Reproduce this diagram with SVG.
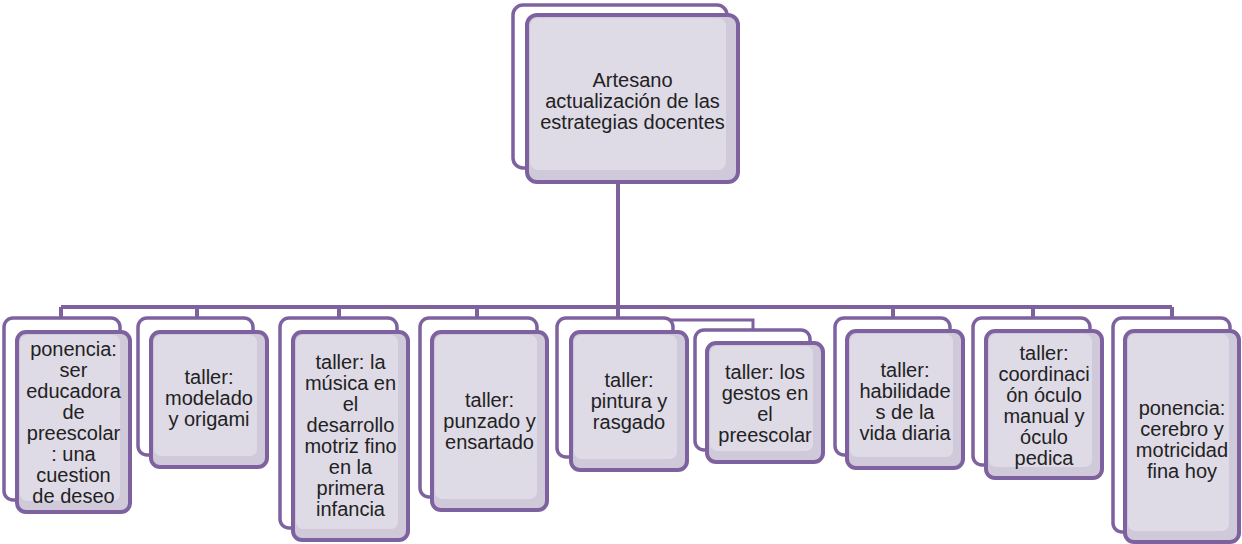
<svg xmlns="http://www.w3.org/2000/svg" width="1242" height="544" viewBox="0 0 1242 544">
<style>
.back{fill:#ffffff;stroke:#7e62a0;stroke-width:3.5}
.front{fill:#cfc9da;stroke:#7e62a0;stroke-width:4}
.inner{fill:#dedae6}
.con{fill:none;stroke:#7e62a0;stroke-width:4}
.thin{fill:none;stroke:#7e62a0;stroke-width:3}
text{font-family:"Liberation Sans",Arial,sans-serif;font-size:20px;fill:#222222;text-anchor:middle}
</style>
<rect width="1242" height="544" fill="#ffffff"/>
<g id="connectors">
<path class="con" d="M618,182 V307"/>
<path class="con" d="M61,307 H1172"/>
<path class="con" d="M61,307 V319 M197,307 V319 M339,307 V319 M477,307 V319 M618,307 V319 M893,307 V319 M1033,307 V319 M1172,307 V319"/>
<path class="thin" d="M618,307 V320 H753 V331"/>
</g>
<g id="top">
<rect class="back" x="513" y="5" width="214" height="163" rx="10"/>
<rect class="front" x="527" y="15" width="211" height="167" rx="10"/>
<rect class="inner" x="530" y="18" width="196" height="152" rx="8"/>
<text><tspan x="632.5" y="87">Artesano</tspan><tspan x="632.5" y="108">actualización de las</tspan><tspan x="632.5" y="129">estrategias docentes</tspan></text>
</g>
<g id="n1">
<rect class="back" x="4" y="318" width="116" height="182" rx="9"/>
<rect class="front" x="17" y="332" width="113" height="180" rx="9"/>
<rect class="inner" x="20" y="335" width="100" height="166" rx="7"/>
<text><tspan x="73.5" y="356">ponencia:</tspan><tspan x="73.5" y="377">ser</tspan><tspan x="73.5" y="398">educadora</tspan><tspan x="73.5" y="419">de</tspan><tspan x="73.5" y="440">preescolar</tspan><tspan x="73.5" y="461">: una</tspan><tspan x="73.5" y="482">cuestion</tspan><tspan x="73.5" y="503">de deseo</tspan></text>
</g>
<g id="n2">
<rect class="back" x="138" y="318" width="115" height="137" rx="9"/>
<rect class="front" x="151" y="332" width="116" height="135" rx="9"/>
<rect class="inner" x="154" y="335" width="103" height="121" rx="7"/>
<text><tspan x="209" y="384">taller:</tspan><tspan x="209" y="405">modelado</tspan><tspan x="209" y="426">y origami</tspan></text>
</g>
<g id="n3">
<rect class="back" x="280" y="318" width="117" height="210" rx="9"/>
<rect class="front" x="293" y="332" width="115" height="208" rx="9"/>
<rect class="inner" x="296" y="335" width="102" height="194" rx="7"/>
<text><tspan x="350.5" y="369">taller: la</tspan><tspan x="350.5" y="390">música en</tspan><tspan x="350.5" y="411">el</tspan><tspan x="350.5" y="432">desarrollo</tspan><tspan x="350.5" y="453">motriz fino</tspan><tspan x="350.5" y="474">en la</tspan><tspan x="350.5" y="495">primera</tspan><tspan x="350.5" y="516">infancia</tspan></text>
</g>
<g id="n4">
<rect class="back" x="420" y="318" width="117" height="179" rx="9"/>
<rect class="front" x="432" y="332" width="115" height="178" rx="9"/>
<rect class="inner" x="435" y="335" width="102" height="164" rx="7"/>
<text><tspan x="489.5" y="407">taller:</tspan><tspan x="489.5" y="428">punzado y</tspan><tspan x="489.5" y="449">ensartado</tspan></text>
</g>
<g id="n5">
<rect class="back" x="557" y="318" width="116" height="139" rx="9"/>
<rect class="front" x="571" y="332" width="116" height="138" rx="9"/>
<rect class="inner" x="574" y="335" width="103" height="124" rx="7"/>
<text><tspan x="629" y="387">taller:</tspan><tspan x="629" y="408">pintura y</tspan><tspan x="629" y="429">rasgado</tspan></text>
</g>
<g id="n6">
<rect class="back" x="695" y="330" width="115" height="120" rx="9"/>
<rect class="front" x="707" y="343" width="116" height="119" rx="9"/>
<rect class="inner" x="710" y="346" width="103" height="105" rx="7"/>
<text><tspan x="765" y="379">taller: los</tspan><tspan x="765" y="400">gestos en</tspan><tspan x="765" y="421">el</tspan><tspan x="765" y="442">preescolar</tspan></text>
</g>
<g id="n7">
<rect class="back" x="835" y="318" width="115" height="137" rx="9"/>
<rect class="front" x="847" y="331" width="116" height="137" rx="9"/>
<rect class="inner" x="850" y="334" width="103" height="123" rx="7"/>
<text><tspan x="905" y="377">taller:</tspan><tspan x="905" y="398">habilidade</tspan><tspan x="905" y="419">s de la</tspan><tspan x="905" y="440">vida diaria</tspan></text>
</g>
<g id="n8">
<rect class="back" x="973" y="318" width="117" height="147" rx="9"/>
<rect class="front" x="986" y="331" width="116" height="147" rx="9"/>
<rect class="inner" x="989" y="334" width="103" height="133" rx="7"/>
<text><tspan x="1044" y="360">taller:</tspan><tspan x="1044" y="381">coordinaci</tspan><tspan x="1044" y="402">ón óculo</tspan><tspan x="1044" y="423">manual y</tspan><tspan x="1044" y="444">óculo</tspan><tspan x="1044" y="465">pedica</tspan></text>
</g>
<g id="n9">
<rect class="back" x="1113" y="318" width="117" height="214" rx="9"/>
<rect class="front" x="1125" y="331" width="114" height="211" rx="9"/>
<rect class="inner" x="1128" y="334" width="101" height="197" rx="7"/>
<text><tspan x="1182" y="415">ponencia:</tspan><tspan x="1182" y="436">cerebro y</tspan><tspan x="1182" y="457">motricidad</tspan><tspan x="1182" y="478">fina hoy</tspan></text>
</g>
</svg>
